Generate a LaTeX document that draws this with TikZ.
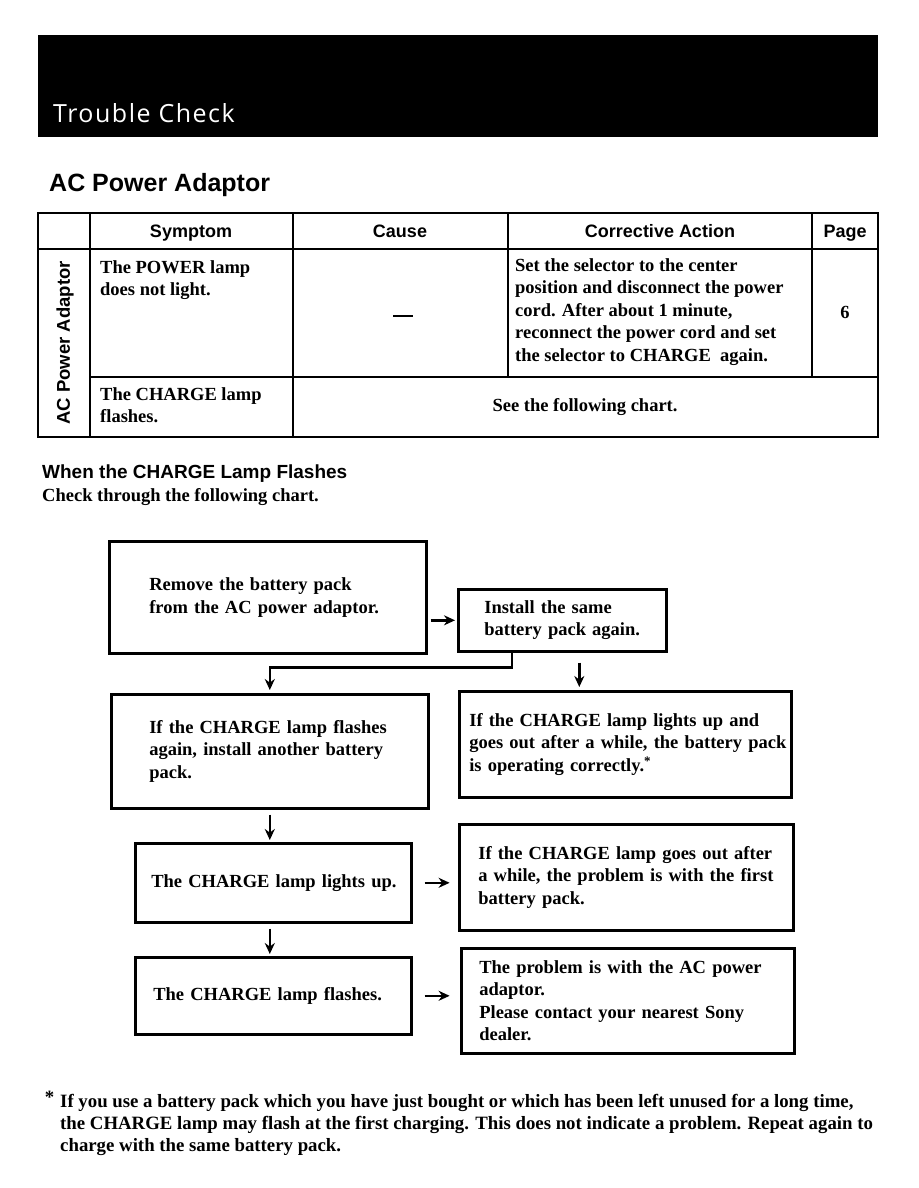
\documentclass[tikz,border=0pt]{standalone}
\usepackage{fontspec}
\setmainfont{Liberation Serif}
\setsansfont{Liberation Sans}
\newfontfamily\titlefont[LetterSpace=6]{Open Sans}
\usetikzlibrary{arrows.meta,calc}
\begin{document}
\begin{tikzpicture}[x=1pt,y=-1pt,
  every node/.style={inner sep=0pt},
  body/.style={font=\bfseries\fontsize{18.5}{22.5}\selectfont},
  hd/.style={font=\sffamily\bfseries\fontsize{18}{18}\selectfont,anchor=base},
  cell/.style={body,anchor=north west,align=left},
  fbox/.style={draw,line width=2.6pt,anchor=north west,align=left,body,inner ysep=0pt},
  tline/.style={line width=2.2pt},
  arr/.style={line width=2.5pt,-{Stealth[length=11pt,width=10pt]}}]
\useasboundingbox (0,0) rectangle (918,1188);
\fill[white] (0,0) rectangle (918,1188);
% header bar
\fill[black] (38,35) rectangle (878,137);
\node[anchor=base west,text=white,font=\titlefont\fontsize{25}{25}\selectfont] (title) at (53,123) {Trouble Check};
\node[anchor=base west,font=\sffamily\bfseries\fontsize{25}{25}\selectfont] (h1) at (49,191) {AC Power Adaptor};
% table
\draw[tline] (38,213) rectangle (878,437);
\draw[tline] (38,249) -- (878,249);
\draw[tline] (90,377) -- (878,377);
\draw[tline] (90,213) -- (90,437);
\draw[tline] (293,213) -- (293,437);
\draw[tline] (508,213) -- (508,377);
\draw[tline] (812,213) -- (812,377);
\node[hd] (hsym) at (191,237) {Symptom};
\node[hd] (hcau) at (400,237) {Cause};
\node[hd] (hcor) at (660,237) {Corrective Action};
\node[hd] (hpag) at (845,237) {Page};
\node[font=\sffamily\bfseries\fontsize{18.5}{18.5}\selectfont,rotate=90] (vlab) at (65,343) {AC Power Adaptor};
\node[cell] (s1) at (100,260) {The POWER lamp\\does not light.};
\node[body] (c1) at (403,316) {\rule{20pt}{2pt}};
\node[cell] (a1) at (515,258) {Set the selector to the center\\position and disconnect the power\\cord. After about 1 minute,\\reconnect the power cord and set\\the selector to CHARGE\ \ again.};
\node[body] (p1) at (845,312) {6};
\node[cell] (s2) at (100,387) {The CHARGE lamp\\flashes.};
\node[body] (see) at (585,407) {See the following chart.};
% section
\node[anchor=base west,font=\sffamily\bfseries\fontsize{19}{19}\selectfont] (h2) at (42,478) {When the CHARGE Lamp Flashes};
\node[anchor=base west,body] (sub) at (42,501) {Check through the following chart.};
% flow boxes
\node[fbox,minimum width=317pt,minimum height=112pt,text width=237pt,inner xsep=40pt] (b1) at (108,540)
  {\mbox{Remove the battery pack}\\\mbox{from the AC power adaptor.}};
\node[fbox,minimum width=208pt,minimum height=62pt,text width=156pt,inner xsep=26pt] (b2) at (457,588)
  {\mbox{Install the same}\\\mbox{battery pack again.}};
\node[fbox,minimum width=317pt,minimum height=114pt,text width=241pt,inner xsep=38pt] (b3) at (110,693)
  {\mbox{If the CHARGE lamp flashes}\\\mbox{again, install another battery}\\\mbox{pack.}};
\node[fbox,minimum width=332pt,minimum height=106pt,text width=312pt,inner xsep=10pt] (b4) at (458,690)
  {\mbox{If the CHARGE lamp lights up and}\\\mbox{goes out after a while, the battery pack}\\\mbox{is operating correctly.\textsuperscript{*}}};
\node[fbox,minimum width=276pt,minimum height=79pt,text width=244pt,inner xsep=16pt] (b5) at (134,842)
  {\mbox{The CHARGE lamp lights up.}};
\node[fbox,minimum width=334pt,minimum height=106pt,text width=296pt,inner xsep=19pt] (b6) at (458,823)
  {\mbox{If the CHARGE lamp goes out after}\\\mbox{a while, the problem is with the first}\\\mbox{battery pack.}};
\node[fbox,minimum width=276pt,minimum height=77pt,text width=240pt,inner xsep=18pt] (b7) at (134,956)
  {\mbox{The CHARGE lamp flashes.}};
\node[fbox,minimum width=333pt,minimum height=105pt,text width=297pt,inner xsep=18pt] (b8) at (460,947)
  {\mbox{The problem is with the AC power}\\\mbox{adaptor.}\\\mbox{Please contact your nearest Sony}\\\mbox{dealer.}};
% connectors
\draw[arr] ($(b1.east |- b2.west)+(3,0)$) -- ($(b2.west)+(-2,0)$);
\coordinate (j1) at ($(b2.south west)+(55,0)$);
\draw[arr] (j1) -- ++(0,15) -| ($(b3.north)+(0,-3)$);
\coordinate (j2) at ($(b2.south)+(17,10)$);
\draw[arr] (j2) -- ($(j2 |- b4.north)+(0,-3)$);
\draw[arr] ($(b3.south)+(0,5)$) -- ($(b3.south |- b5.north)+(0,-2)$);
\draw[arr] ($(b3.south |- b5.south)+(0,5)$) -- ($(b3.south |- b7.north)+(0,-2)$);
\draw[arr] ($(b5.east)+(12,0)$) -- ($(b5.east)+(37,0)$);
\draw[arr] ($(b7.east)+(12,0)$) -- ($(b7.east)+(37,0)$);
% footnote
\node[anchor=north west,align=left,font=\bfseries\fontsize{18.8}{22}\selectfont] (fn) at (60,1091)
  {\llap{\raisebox{4pt}{*}\hspace{6pt}}\mbox{If you use a battery pack which you have just bought or which has been left unused for a long time,}\\
   \mbox{the CHARGE lamp may flash at the first charging. This does not indicate a problem. Repeat again to}\\
   \mbox{charge with the same battery pack.}};
\end{tikzpicture}
\end{document}
